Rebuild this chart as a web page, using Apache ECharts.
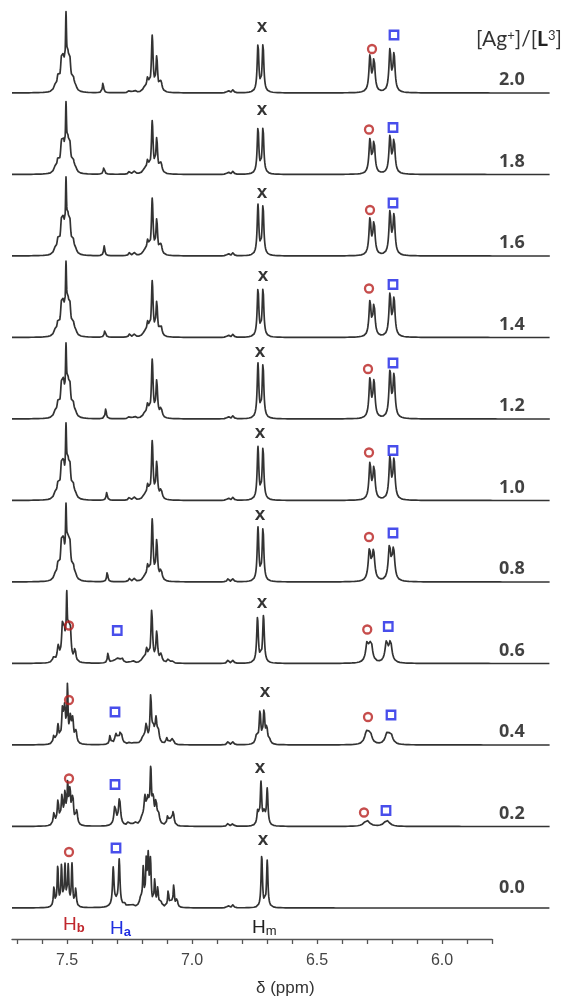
<!DOCTYPE html>
<html>
<head>
<meta charset="utf-8">
<script src="https://cdn.jsdelivr.net/npm/echarts@6/dist/echarts.min.js"></script>
<style>
  html, body { margin: 0; padding: 0; background: #fff; }
  #chart { width: 566px; height: 1005px; }
</style>
</head>
<body>
<div id="chart"></div>
<script>
// Titration series, top trace first: [Ag+]/[L3] ratio of each trace
const ratioLabels = ['2.0', '1.8', '1.6', '1.4', '1.2', '1.0', '0.8', '0.6', '0.4', '0.2', '0.0'];

// Axis ticks (ppm)
const tickLabels = [7.5, 7.0, 6.5, 6.0];
const minorTickValues = [7.7, 7.6, 7.5, 7.4, 7.3, 7.2, 7.1, 7.0, 6.9, 6.8, 6.7, 6.6, 6.5, 6.4, 6.3, 6.2, 6.1, 6.0, 5.9, 5.8];

// Peak lists for each trace: [shift (ppm), amplitude, half width (ppm)]
const peaks_2_0 = [
  [7.548, 5, .006], [7.536, 13, .005], [7.522, 26, .005], [7.514, 26, .005], [7.504, 62, .0025],
  [7.497, 26, .005], [7.489, 26, .005], [7.476, 12, .005], [7.466, 4, .006],
  [7.356, 10, .003], [7.25, 3, .004], [7.23, 3, .004],
  [7.19, 4, .008], [7.177, 13, .005], [7.159, 55, .004], [7.141, 34, .004], [7.124, 10, .005],
  [6.856, 3, .004], [6.836, 3, .004],
  [6.736, 48, .004], [6.716, 48, .004],
  [6.288, 36, .005], [6.272, 33, .005],
  [6.208, 42, .005], [6.192, 37, .005]
];
const peaks_1_8 = [
  [7.548, 5, .006], [7.536, 12, .005], [7.522, 24, .005], [7.514, 24, .005], [7.504, 55, .0025],
  [7.497, 24, .005], [7.489, 24, .005], [7.476, 11, .005], [7.466, 4, .006],
  [7.352, 8, .003], [7.25, 3, .004], [7.23, 3, .004],
  [7.19, 4, .008], [7.177, 12, .005], [7.159, 51, .004], [7.141, 34, .004], [7.124, 10, .005],
  [6.856, 3, .004], [6.836, 3, .004],
  [6.736, 46, .004], [6.716, 46, .004],
  [6.288, 34, .005], [6.272, 32, .005],
  [6.208, 37, .005], [6.192, 34, .005]
];
const peaks_1_6 = [
  [7.548, 5, .006], [7.536, 13, .005], [7.522, 27, .005], [7.514, 27, .005], [7.504, 59, .0025],
  [7.497, 27, .005], [7.489, 27, .005], [7.476, 12, .005], [7.466, 4, .006],
  [7.351, 10, .003], [7.25, 3, .004], [7.23, 3, .004],
  [7.19, 4, .008], [7.177, 13, .005], [7.159, 55, .004], [7.141, 34, .004], [7.124, 10, .005],
  [6.856, 3, .004], [6.836, 3, .004],
  [6.736, 50, .004], [6.716, 50, .004],
  [6.288, 36, .005], [6.272, 33, .005],
  [6.208, 43, .005], [6.192, 39, .005]
];
const peaks_1_4 = [
  [7.548, 5, .006], [7.536, 12, .005], [7.522, 26, .005], [7.514, 26, .005], [7.504, 57, .0025],
  [7.497, 26, .005], [7.489, 26, .005], [7.476, 12, .005], [7.466, 4, .006],
  [7.348, 8, .003], [7.25, 3, .004], [7.23, 3, .004],
  [7.19, 4, .008], [7.177, 13, .005], [7.159, 54, .004], [7.141, 33, .004], [7.124, 10, .005],
  [6.856, 3, .004], [6.836, 3, .004],
  [6.736, 48, .004], [6.716, 48, .004],
  [6.288, 35, .005], [6.272, 32, .005],
  [6.208, 42, .005], [6.192, 37, .005]
];
const peaks_1_2 = [
  [7.548, 5, .006], [7.536, 13, .005], [7.522, 27, .005], [7.514, 27, .005], [7.504, 56, .0025],
  [7.497, 27, .005], [7.489, 27, .005], [7.476, 12, .005], [7.466, 4, .006],
  [7.345, 10, .003], [7.25, 3, .004], [7.23, 3, .004],
  [7.19, 4, .008], [7.177, 13, .005], [7.159, 57, .004], [7.141, 36, .004], [7.124, 10, .005],
  [6.856, 3, .004], [6.836, 3, .004],
  [6.736, 54, .004], [6.716, 54, .004],
  [6.288, 39, .005], [6.272, 36, .005],
  [6.208, 46, .005], [6.192, 42, .005]
];
const peaks_1_0 = [
  [7.548, 5, .006], [7.536, 13, .005], [7.522, 28, .005], [7.514, 28, .005], [7.504, 57, .0025],
  [7.497, 28, .005], [7.489, 28, .005], [7.476, 12, .005], [7.466, 4, .006],
  [7.341, 8, .003], [7.25, 3, .004], [7.23, 3, .004],
  [7.19, 4, .008], [7.177, 13, .005], [7.159, 57, .004], [7.141, 36, .004], [7.124, 10, .005],
  [6.856, 3, .004], [6.836, 3, .004],
  [6.736, 52, .004], [6.716, 52, .004],
  [6.288, 36, .005], [6.272, 33, .005],
  [6.208, 42, .005], [6.192, 39, .005]
];
const peaks_0_8 = [
  [7.548, 5, .006], [7.536, 14, .005], [7.522, 31, .005], [7.514, 31, .005], [7.504, 56, .0025],
  [7.497, 31, .005], [7.489, 31, .005], [7.476, 13, .005], [7.466, 4, .006],
  [7.339, 10, .003], [7.25, 3, .004], [7.23, 3, .004],
  [7.19, 4, .008], [7.177, 14, .005], [7.159, 60, .004], [7.141, 39, .004], [7.124, 11, .005],
  [6.856, 3, .004], [6.836, 3, .004],
  [6.736, 53, .004], [6.716, 53, .004],
  [6.29, 31, .006], [6.274, 29, .006],
  [6.21, 34, .006], [6.194, 31, .006]
];
const peaks_0_6 = [
  [7.553, 5, .005], [7.535, 15, .005], [7.518, 32, .0045], [7.511, 24, .0045], [7.501, 56, .0025],
  [7.494, 26, .0045], [7.487, 28, .0045], [7.468, 13, .004],
  [7.336, 10, .003],
  [7.31, 3, .01], [7.295, 4, .006], [7.281, 5, .006], [7.248, 2, .004], [7.236, 2, .004],
  [7.196, 4, .008], [7.181, 13, .005], [7.161, 52, .004], [7.141, 30, .004], [7.124, 8, .005],
  [7.095, 4, .004], [7.081, 3, .004],
  [6.856, 3, .004], [6.836, 3, .004],
  [6.738, 45, .004], [6.714, 47, .004],
  [6.299, 20, .007], [6.284, 20, .007],
  [6.222, 20, .007], [6.206, 20, .007]
];
const peaks_0_4 = [
  [7.552, 9, .004], [7.536, 18, .004], [7.518, 32, .004], [7.509, 33, .004], [7.498, 54, .0025],
  [7.486, 26, .004], [7.477, 22, .004], [7.464, 12, .004],
  [7.328, 9, .003],
  [7.304, 10, .006], [7.285, 14, .006], [7.248, 3, .004], [7.228, 3, .004],
  [7.196, 6, .008], [7.183, 18, .005], [7.165, 46, .0035], [7.155, 14, .005], [7.144, 22, .004],
  [7.135, 12, .005], [7.101, 6, .004], [7.09, 3, .004], [7.077, 7, .004],
  [6.856, 3, .004], [6.836, 3, .004],
  [6.742, 8, .005], [6.728, 32, .004], [6.712, 32, .004], [6.701, 15, .004], [6.69, 4, .005],
  [6.302, 11, .009], [6.288, 11, .009],
  [6.22, 10, .009], [6.205, 10, .009]
];
const peaks_0_2 = [
  [7.552, 12, .004], [7.536, 24, .004], [7.52, 28, .004], [7.508, 30, .0035], [7.497, 38, .003],
  [7.488, 32, .0035], [7.477, 28, .004], [7.461, 14, .004],
  [7.308, 20, .005], [7.29, 27, .005], [7.256, 3, .004], [7.242, 3, .004], [7.228, 3, .004],
  [7.2, 6, .008], [7.188, 25, .005], [7.176, 22, .005], [7.165, 52, .0035], [7.155, 22, .004],
  [7.144, 22, .004], [7.134, 10, .005], [7.097, 10, .004], [7.085, 5, .004], [7.075, 14, .004],
  [6.856, 3, .004], [6.836, 3, .004],
  [6.737, 14, .004], [6.724, 42, .0035], [6.711, 12, .005], [6.699, 36, .0035],
  [6.301, 6, .013],
  [6.221, 6, .013]
];
const peaks_0_0 = [
  [7.552, 20, .003], [7.537, 40, .003], [7.522, 40, .003], [7.508, 40, .003], [7.495, 40, .003],
  [7.48, 42, .003], [7.465, 18, .003],
  [7.315, 37, .0035], [7.291, 45, .0035], [7.303, 5, .015],
  [7.27, 3, .004], [7.25, 3, .004], [7.238, 3, .004],
  [7.205, 8, .006], [7.195, 36, .003], [7.183, 42, .003], [7.175, 46, .003], [7.166, 44, .003],
  [7.149, 26, .003], [7.137, 18, .003], [7.125, 5, .005],
  [7.095, 17, .003], [7.083, 5, .004], [7.073, 22, .003], [7.06, 9, .003],
  [6.856, 3, .004], [6.836, 3, .004],
  [6.721, 52, .0033], [6.699, 47, .0033]
];
const spectra = [peaks_2_0, peaks_1_8, peaks_1_6, peaks_1_4, peaks_1_2, peaks_1_0,
                 peaks_0_8, peaks_0_6, peaks_0_4, peaks_0_2, peaks_0_0];

// Signal assignments: [trace index, shift (ppm), height above the trace baseline]
const circleMarks = [
  [0, 6.28, 44], [1, 6.292, 45], [2, 6.288, 46], [3, 6.292, 49], [4, 6.296, 50], [5, 6.292, 48],
  [6, 6.292, 45], [7, 6.299, 34], [8, 6.296, 28], [9, 6.312, 14],
  [7, 7.492, 38], [8, 7.492, 45], [9, 7.492, 48], [10, 7.492, 56]
];
const squareMarks = [
  [0, 6.192, 58], [1, 6.196, 47], [2, 6.196, 53], [3, 6.196, 53], [4, 6.196, 56], [5, 6.196, 50],
  [6, 6.196, 49], [7, 6.215, 37], [8, 6.204, 30], [9, 6.224, 16],
  [7, 7.299, 33], [8, 7.308, 33], [9, 7.308, 42], [10, 7.304, 60]
];
const crossMarks = [
  [0, 6.72, 66], [1, 6.72, 65], [2, 6.72, 63], [3, 6.716, 62], [4, 6.728, 67], [5, 6.728, 68],
  [6, 6.728, 67], [7, 6.72, 61], [8, 6.708, 53], [9, 6.728, 59], [10, 6.716, 68]
];

// ---- layout ----
const stackStep = 81.5;          // vertical spacing between traces
const xLeft = 7.72, xRight = 5.568;
const labelShift = 5.669;        // where the ratio labels end
const baseOf = r => (ratioLabels.length - 1 - r) * stackStep;

function lineShape(peaks, x) {
  let y = 0;
  for (const [c, h, w] of peaks) {
    const d = (x - c) / w;
    y += h / (1 + d * d);
  }
  return y;
}

const xs = [];
for (let x = xLeft; x >= xRight; x -= 0.0008) xs.push(+x.toFixed(4));

const series = [];
spectra.forEach((peaks, r) => {
  const base = baseOf(r);
  series.push({
    type: 'line', xAxisIndex: 0, yAxisIndex: 0,
    data: xs.map(x => [x, base + lineShape(peaks, x)]),
    symbol: 'none', clip: false, silent: true,
    lineStyle: { color: '#333', width: 1.7, join: 'round' },
    z: 2
  });
});

const toPts = arr => arr.map(([r, x, h]) => [x, baseOf(r) + h]);

series.push({
  type: 'scatter', xAxisIndex: 0, yAxisIndex: 0, silent: true, z: 5,
  data: toPts(circleMarks), symbol: 'circle', symbolSize: 8,
  itemStyle: { color: 'rgba(255,255,255,0)', borderColor: '#b8201f', borderWidth: 2.3 }
});
series.push({
  type: 'scatter', xAxisIndex: 0, yAxisIndex: 0, silent: true, z: 5,
  data: toPts(squareMarks), symbol: 'rect', symbolSize: 8.5,
  itemStyle: { color: 'rgba(255,255,255,0)', borderColor: '#1a22e6', borderWidth: 2.3 }
});
series.push({
  type: 'scatter', xAxisIndex: 0, yAxisIndex: 0, silent: true, z: 5,
  data: toPts(crossMarks), symbolSize: 0,
  label: { show: true, position: 'inside', formatter: 'x', color: '#000',
           fontSize: 19, fontWeight: 'bold', fontFamily: 'Liberation Sans' }
});
// ratio labels at the right end of each trace
series.push({
  type: 'scatter', xAxisIndex: 0, yAxisIndex: 0, silent: true, z: 5,
  data: ratioLabels.map((lab, r) => ({ value: [labelShift, baseOf(r) + (r === ratioLabels.length - 1 ? 20 : 13)], name: lab })),
  symbolSize: 0,
  label: { show: true, position: 'left', distance: 0, formatter: p => p.name,
           color: '#111', fontSize: 18, fontWeight: 'bold', fontFamily: 'Open Sans' }
});

const chart = echarts.init(document.getElementById('chart'), null, { renderer: 'canvas' });
chart.setOption({
  animation: false,
  backgroundColor: '#fff',
  grid: [
    { left: 12, right: 16, top: 8, bottom: 97 },
    { left: 12, width: 480, top: 938, height: 1 }
  ],
  xAxis: [
    { gridIndex: 0, type: 'value', min: xRight, max: xLeft, inverse: true, show: false },
    { gridIndex: 1, type: 'value', min: 5.8, max: 7.72, inverse: true,
      axisLine: { show: true, onZero: false, lineStyle: { color: '#555', width: 1.3 } },
      axisTick: { show: true, customValues: minorTickValues, length: 5, lineStyle: { color: '#555', width: 1.3 } },
      axisLabel: { customValues: tickLabels, formatter: v => v.toFixed(1), fontSize: 16,
                   color: '#444', margin: 14, fontFamily: 'Liberation Sans' },
      splitLine: { show: false } }
  ],
  yAxis: [
    { gridIndex: 0, type: 'value', min: 0, max: 900, show: false },
    { gridIndex: 1, type: 'value', min: 0, max: 1, show: false }
  ],
  series,
  graphic: [
    { type: 'text', right: 4, top: 29, z: 10,
      style: { text: '{n|[Ag}{s|+}{n|]/[}{b|L}{s|3}{n|]}', fill: '#333',
        rich: {
          n: { fontSize: 21, fontFamily: 'Lato', fill: '#333' },
          b: { fontSize: 21, fontFamily: 'Lato', fontWeight: 'bold', fill: '#222' },
          s: { fontSize: 13, fontFamily: 'Lato', fill: '#333', verticalAlign: 'top', padding: [0, 0, 8, 0] }
        } } },
    { type: 'text', left: 63, top: 915, z: 10,
      style: { text: '{h|H}{s|b}', rich: {
        h: { fontSize: 19, fontFamily: 'Liberation Sans', fill: '#c0272d' },
        s: { fontSize: 13, fontFamily: 'Liberation Sans', fontWeight: 'bold', fill: '#c0272d', padding: [8, 0, 0, 0] } } } },
    { type: 'text', left: 110, top: 919, z: 10,
      style: { text: '{h|H}{s|a}', rich: {
        h: { fontSize: 19, fontFamily: 'Liberation Sans', fill: '#1f2fe0' },
        s: { fontSize: 13, fontFamily: 'Liberation Sans', fontWeight: 'bold', fill: '#1f2fe0', padding: [8, 0, 0, 0] } } } },
    { type: 'text', left: 252, top: 918, z: 10,
      style: { text: '{h|H}{s|m}', rich: {
        h: { fontSize: 19, fontFamily: 'Liberation Sans', fill: '#222' },
        s: { fontSize: 13, fontFamily: 'Liberation Sans', fill: '#222', padding: [8, 0, 0, 0] } } } },
    { type: 'text', left: 256, top: 980, z: 10,
      style: { text: 'δ (ppm)', fontSize: 17, fontFamily: 'Liberation Sans', fill: '#333' } }
  ]
});
</script>
</body>
</html>
